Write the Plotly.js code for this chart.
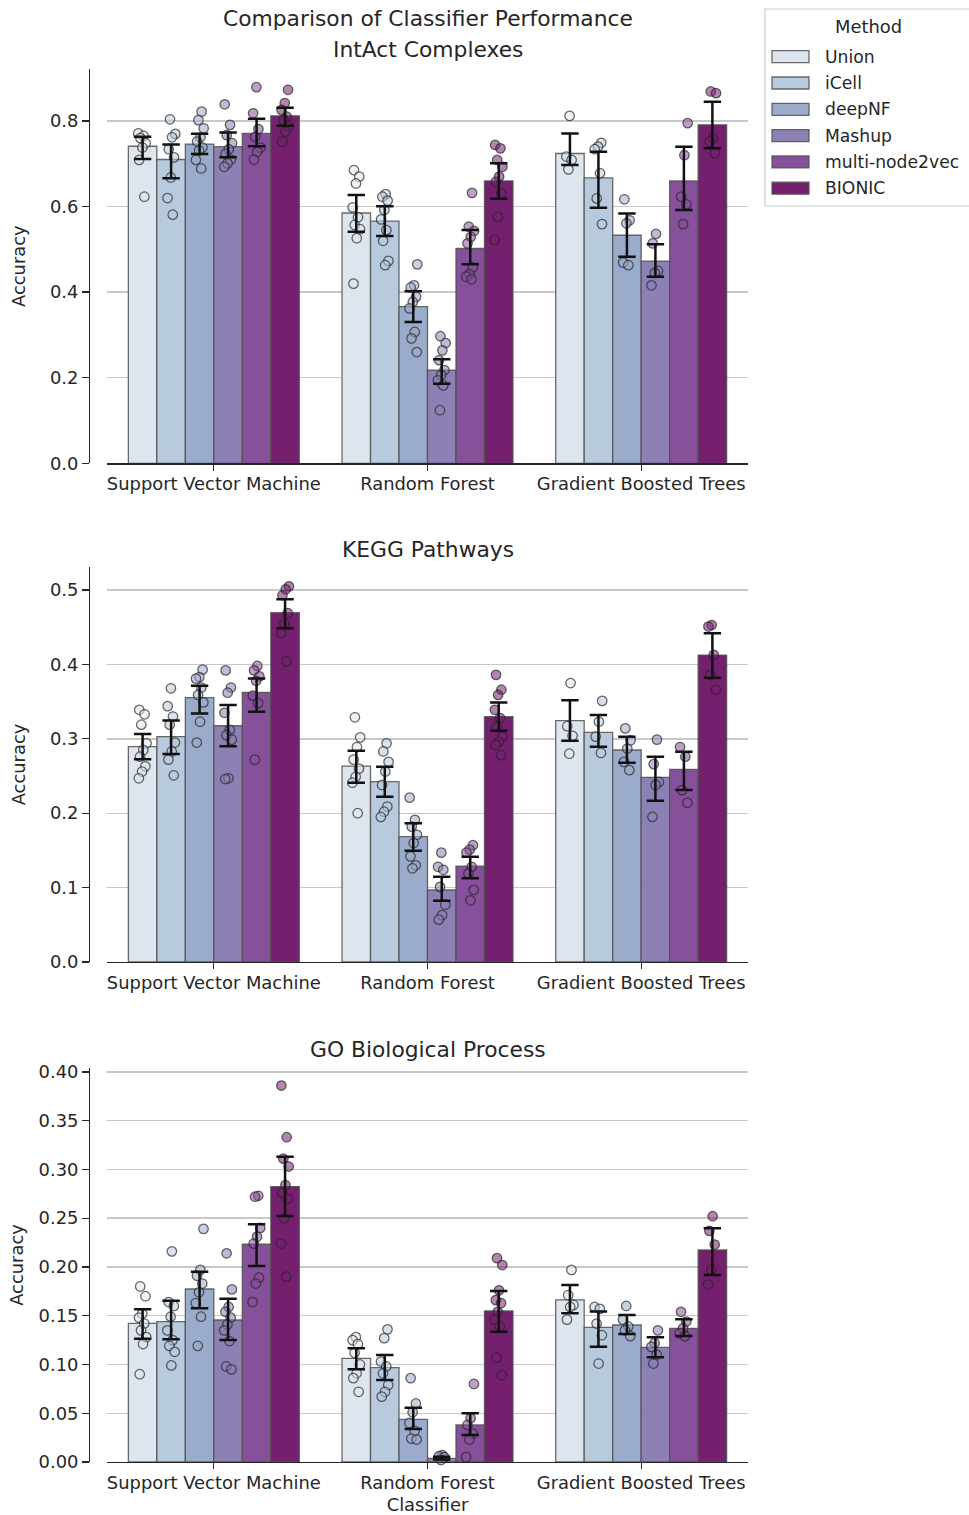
<!DOCTYPE html>
<html><head><meta charset="utf-8">
<script src="https://cdn.plot.ly/plotly-3.0.1.min.js"></script>
<style>html,body{margin:0;padding:0;background:#fff}</style>
</head><body><div id="chart" style="width:969px;height:1515px"></div>
<script>
// ---------------- DATA ----------------
const classifiers = ["Support Vector Machine", "Random Forest", "Gradient Boosted Trees"];
const methods = ["Union", "iCell", "deepNF", "Mashup", "multi-node2vec", "BIONIC"];
const panelTitles = ["IntAct Complexes", "KEGG Pathways", "GO Biological Process"];
const mainTitle = "Comparison of Classifier Performance";
const yLabel = "Accuracy";
const xLabel = "Classifier";
const legendTitle = "Method";

// IntAct Complexes: bar means [method][classifier]
const intactMean = [
  [0.741, 0.585, 0.724],
  [0.710, 0.566, 0.667],
  [0.746, 0.366, 0.533],
  [0.740, 0.2175, 0.4725],
  [0.771, 0.502, 0.660],
  [0.812, 0.660, 0.791]
];
const intactLow = [
  [0.711, 0.541, 0.697],
  [0.666, 0.531, 0.597],
  [0.723, 0.330, 0.483],
  [0.715, 0.186, 0.436],
  [0.741, 0.465, 0.592],
  [0.789, 0.618, 0.736]
];
const intactHigh = [
  [0.763, 0.627, 0.771],
  [0.745, 0.601, 0.728],
  [0.770, 0.402, 0.584],
  [0.773, 0.243, 0.512],
  [0.805, 0.545, 0.740],
  [0.831, 0.701, 0.845]
];
const intactPoints = [
  [[0.771, 0.765, 0.760, 0.748, 0.738, 0.709, 0.623],
   [0.685, 0.670, 0.654, 0.598, 0.575, 0.557, 0.547, 0.526, 0.420],
   [0.812, 0.717, 0.709, 0.687]],
  [[0.804, 0.770, 0.762, 0.734, 0.715, 0.668, 0.620, 0.581],
   [0.629, 0.623, 0.614, 0.592, 0.570, 0.545, 0.520, 0.473, 0.463],
   [0.749, 0.740, 0.734, 0.678, 0.619, 0.559]],
  [[0.822, 0.802, 0.783, 0.762, 0.752, 0.738, 0.731, 0.709, 0.689],
   [0.465, 0.416, 0.411, 0.389, 0.377, 0.362, 0.307, 0.292, 0.260],
   [0.617, 0.568, 0.561, 0.469, 0.463]],
  [[0.839, 0.791, 0.767, 0.748, 0.734, 0.723, 0.710, 0.701, 0.693],
   [0.297, 0.281, 0.264, 0.241, 0.218, 0.206, 0.194, 0.182, 0.124],
   [0.536, 0.514, 0.450, 0.445, 0.416]],
  [[0.879, 0.818, 0.781, 0.763, 0.738, 0.728, 0.710],
   [0.632, 0.553, 0.543, 0.529, 0.514, 0.458, 0.442, 0.436, 0.430],
   [0.795, 0.720, 0.623, 0.605, 0.559]],
  [[0.873, 0.842, 0.826, 0.810, 0.802, 0.787, 0.775, 0.752],
   [0.744, 0.736, 0.709, 0.693, 0.670, 0.658, 0.631, 0.576, 0.522],
   [0.869, 0.865, 0.760, 0.752, 0.725]]
];

// KEGG Pathways
const keggMean = [
  [0.2894, 0.2634, 0.3244],
  [0.303, 0.2424, 0.3086],
  [0.3553, 0.1685, 0.285],
  [0.3176, 0.0968, 0.2482],
  [0.3625, 0.129, 0.259],
  [0.4695, 0.3297, 0.4126]
];
const keggLow = [
  [0.2724, 0.241, 0.2975],
  [0.2796, 0.2222, 0.2894],
  [0.334, 0.1496, 0.2679],
  [0.290, 0.0824, 0.2168],
  [0.3364, 0.1125, 0.2312],
  [0.4485, 0.311, 0.3821]
];
const keggHigh = [
  [0.3065, 0.284, 0.352],
  [0.3245, 0.2625, 0.332],
  [0.3714, 0.1864, 0.3028],
  [0.3454, 0.1147, 0.276],
  [0.381, 0.1416, 0.2827],
  [0.4875, 0.349, 0.4418]
];
const keggPoints = [
  [[0.339, 0.333, 0.319, 0.294, 0.285, 0.276, 0.263, 0.256, 0.247],
   [0.329, 0.302, 0.289, 0.272, 0.260, 0.249, 0.241, 0.200],
   [0.375, 0.317, 0.304, 0.280]],
  [[0.368, 0.344, 0.330, 0.319, 0.295, 0.283, 0.272, 0.251],
   [0.294, 0.283, 0.269, 0.256, 0.238, 0.209, 0.202, 0.195],
   [0.351, 0.323, 0.303, 0.281]],
  [[0.393, 0.383, 0.381, 0.369, 0.359, 0.349, 0.323, 0.295],
   [0.221, 0.191, 0.182, 0.171, 0.160, 0.142, 0.130, 0.126],
   [0.314, 0.298, 0.287, 0.269, 0.258]],
  [[0.392, 0.369, 0.362, 0.335, 0.312, 0.305, 0.299, 0.247, 0.246],
   [0.147, 0.128, 0.124, 0.101, 0.077, 0.063, 0.057],
   [0.299, 0.266, 0.242, 0.238, 0.195]],
  [[0.398, 0.392, 0.384, 0.378, 0.358, 0.348, 0.272],
   [0.157, 0.151, 0.147, 0.128, 0.119, 0.097, 0.083],
   [0.289, 0.276, 0.231, 0.214]],
  [[0.505, 0.501, 0.493, 0.469, 0.455, 0.442, 0.404],
   [0.386, 0.366, 0.359, 0.339, 0.328, 0.316, 0.303, 0.296, 0.292, 0.278],
   [0.453, 0.451, 0.413, 0.386, 0.366]]
];

// GO Biological Process
const goMean = [
  [0.1422, 0.1063, 0.1662],
  [0.1439, 0.0967, 0.1381],
  [0.1774, 0.0438, 0.1405],
  [0.1456, 0.0038, 0.1176],
  [0.2233, 0.038, 0.1371],
  [0.2824, 0.1549, 0.2174]
];
const goLow = [
  [0.1265, 0.0951, 0.1525],
  [0.1258, 0.0841, 0.1183],
  [0.1576, 0.0338, 0.1313],
  [0.1251, 0.0025, 0.1074],
  [0.201, 0.0277, 0.1292],
  [0.2523, 0.1336, 0.1918]
];
const goHigh = [
  [0.1566, 0.1166, 0.1815],
  [0.1654, 0.1097, 0.1542],
  [0.1952, 0.0557, 0.1508],
  [0.1675, 0.0055, 0.1279],
  [0.2438, 0.050, 0.1464],
  [0.3131, 0.1754, 0.2397]
];
const goPoints = [
  [[0.180, 0.170, 0.152, 0.148, 0.142, 0.135, 0.128, 0.121, 0.090],
   [0.128, 0.125, 0.121, 0.112, 0.100, 0.091, 0.086, 0.072],
   [0.197, 0.171, 0.161, 0.159, 0.146]],
  [[0.216, 0.164, 0.160, 0.149, 0.135, 0.125, 0.119, 0.113, 0.099],
   [0.136, 0.127, 0.103, 0.098, 0.091, 0.079, 0.072, 0.067],
   [0.159, 0.157, 0.142, 0.130, 0.101]],
  [[0.239, 0.197, 0.191, 0.183, 0.174, 0.163, 0.149, 0.119],
   [0.086, 0.060, 0.051, 0.040, 0.032, 0.024, 0.023],
   [0.160, 0.146, 0.139, 0.135, 0.129]],
  [[0.214, 0.177, 0.159, 0.154, 0.148, 0.141, 0.135, 0.124, 0.098, 0.095],
   [0.007, 0.006, 0.005, 0.002],
   [0.135, 0.122, 0.118, 0.110, 0.101]],
  [[0.273, 0.272, 0.240, 0.231, 0.224, 0.189, 0.183, 0.164],
   [0.080, 0.045, 0.038, 0.029, 0.023, 0.005],
   [0.154, 0.144, 0.137, 0.132, 0.129]],
  [[0.386, 0.333, 0.311, 0.303, 0.284, 0.276, 0.270, 0.250, 0.224, 0.190],
   [0.209, 0.202, 0.176, 0.166, 0.163, 0.154, 0.146, 0.139, 0.107, 0.089],
   [0.252, 0.237, 0.223, 0.197, 0.182]]
];

// ---------------- STYLE ----------------
const methodColors = ["#dde6ef", "#b8cadd", "#9aabcb", "#8d80b5", "#86509b", "#751f6f"];
const FONT = "DejaVu Sans, Verdana, sans-serif";
const TXT = "#262626";
const FS = 17.9, FT = 21.8;
const W = 969, H = 1515;
const px = v => v / W;            // page x px -> paper
const py = v => 1 - v / H;        // page y px -> paper

const panels = [
  {mean: intactMean, lo: intactLow, hi: intactHigh, pts: intactPoints, top: 69, bottom: 463.3, ymax: 0.9215, dtick: 0.2, fmt: ".1f", ystand: 18, titleY: 50},
  {mean: keggMean, lo: keggLow, hi: keggHigh, pts: keggPoints, top: 567, bottom: 962, ymax: 0.531, dtick: 0.1, fmt: ".1f", ystand: 18, titleY: 550},
  {mean: goMean, lo: goLow, hi: goHigh, pts: goPoints, top: 1068, bottom: 1462, ymax: 0.404, dtick: 0.05, fmt: ".2f", ystand: 9, titleY: 1049}
];

function rgba(hex, a) {
  const n = parseInt(hex.slice(1), 16);
  return `rgba(${(n >> 16) & 255},${(n >> 8) & 255},${n & 255},${a})`;
}

const nM = methods.length;
const groupWidth = 0.8;
const barW = groupWidth / nM;
const catIdx = classifiers.map((_, i) => i);

const traces = [];
const layout = {
  width: W, height: H,
  margin: {l: 0, r: 0, t: 0, b: 0},
  paper_bgcolor: "#ffffff", plot_bgcolor: "rgba(0,0,0,0)",
  barmode: "group", bargap: 0.2, bargroupgap: 0,
  showlegend: false,
  font: {family: FONT, color: TXT, size: FS},
  annotations: [], shapes: []
};

panels.forEach((p, k) => {
  const sfx = k === 0 ? "" : String(k + 1);
  const xa = "x" + sfx, ya = "y" + sfx;
  const bars = [], pts = [], errs = [];
  methods.forEach((m, h) => {
    bars.push({
      type: "bar", name: m, x: catIdx, y: p.mean[h], xaxis: xa, yaxis: ya,
      marker: {color: methodColors[h], line: {color: "rgba(80,80,80,0.85)", width: 1.3}},
      hoverinfo: "skip"
    });
    const xs = [], ys = [];
    p.pts[h].forEach((vals, c) => {
      vals.forEach((v, j) => {
        const jit = (((j * 0.618034 + h * 0.37 + c * 0.23 + k * 0.11) % 1) - 0.5) * 0.04;
        xs.push(c + (h - (nM - 1) / 2) * barW + jit);
        ys.push(v);
      });
    });
    pts.push({
      type: "scatter", mode: "markers", x: xs, y: ys, xaxis: xa, yaxis: ya,
      marker: {size: 9.5, color: rgba(methodColors[h], 0.55), line: {color: "rgba(35,35,35,0.7)", width: 1.25}},
      hoverinfo: "skip", cliponaxis: false
    });
    errs.push({
      type: "scatter", mode: "markers", xaxis: xa, yaxis: ya,
      x: catIdx.map(c => c + (h - (nM - 1) / 2) * barW),
      y: p.mean[h],
      marker: {size: 2, color: "rgba(0,0,0,0)"},
      error_y: {
        type: "data", symmetric: false,
        array: p.hi[h].map((v, c) => v - p.mean[h][c]),
        arrayminus: p.lo[h].map((v, c) => p.mean[h][c] - v),
        color: "#111111", thickness: 2.5, width: 8.7
      },
      hoverinfo: "skip"
    });
  });
  traces.push(...bars, ...pts, ...errs);

  layout["xaxis" + sfx] = {
    domain: [px(107), px(748)], anchor: ya, range: [-0.5, 2.5],
    tickmode: "array", tickvals: catIdx, ticktext: classifiers,
    showline: true, linecolor: TXT, linewidth: 1.3,
    ticks: "outside", ticklen: 6, tickwidth: 1.3, tickcolor: TXT,
    ticklabelstandoff: -2,
    showgrid: false, zeroline: false,
    tickfont: {family: FONT, size: FS, color: TXT},
    fixedrange: true
  };
  if (k === 2) {
    layout["xaxis" + sfx].title = {text: xLabel, font: {family: FONT, size: FS, color: TXT}, standoff: 6};
  }
  layout["yaxis" + sfx] = {
    domain: [py(p.bottom), py(p.top)], anchor: "free", position: px(89),
    range: [0, p.ymax], tick0: 0, dtick: p.dtick, tickformat: p.fmt,
    showline: true, linecolor: TXT, linewidth: 1.3,
    ticks: "outside", ticklen: 7, tickwidth: 1.3, tickcolor: TXT,
    showgrid: true, gridcolor: "#c8c8c8", gridwidth: 1.4, zeroline: false,
    tickfont: {family: FONT, size: FS, color: TXT},
    title: {text: yLabel, font: {family: FONT, size: FS, color: TXT}, standoff: p.ystand},
    fixedrange: true
  };
  layout.annotations.push({
    xref: "paper", yref: "paper", x: px(427.5), y: py(p.titleY),
    xanchor: "center", yanchor: "middle", showarrow: false,
    text: panelTitles[k], font: {family: FONT, size: FT, color: TXT}
  });
});

layout.annotations.push({
  xref: "paper", yref: "paper", x: px(427.5), y: py(18),
  xanchor: "center", yanchor: "middle", showarrow: false,
  text: mainTitle, font: {family: FONT, size: FT, color: TXT}
});

// legend (drawn from the methods / colors arrays)
layout.shapes.push({
  type: "rect", xref: "paper", yref: "paper",
  x0: px(765), x1: px(985), y0: py(206), y1: py(9),
  fillcolor: "rgba(255,255,255,0.8)", line: {color: "#cccccc", width: 1.2}
});
layout.annotations.push({
  xref: "paper", yref: "paper", x: px(868), y: py(26.5),
  xanchor: "center", yanchor: "middle", showarrow: false,
  text: legendTitle, font: {family: FONT, size: FS, color: TXT}
});
methods.forEach((m, h) => {
  const cy = 56.7 + h * 26.3;
  layout.shapes.push({
    type: "rect", xref: "paper", yref: "paper",
    x0: px(772), x1: px(809), y0: py(cy + 6), y1: py(cy - 6),
    fillcolor: methodColors[h], line: {color: "rgba(80,80,80,0.85)", width: 1.3}
  });
  layout.annotations.push({
    xref: "paper", yref: "paper", x: px(823), y: py(cy),
    xanchor: "left", yanchor: "middle", showarrow: false,
    text: m, font: {family: FONT, size: 17.2, color: TXT}
  });
});

Plotly.newPlot("chart", traces, layout, {staticPlot: true, displayModeBar: false});
</script></body></html>
